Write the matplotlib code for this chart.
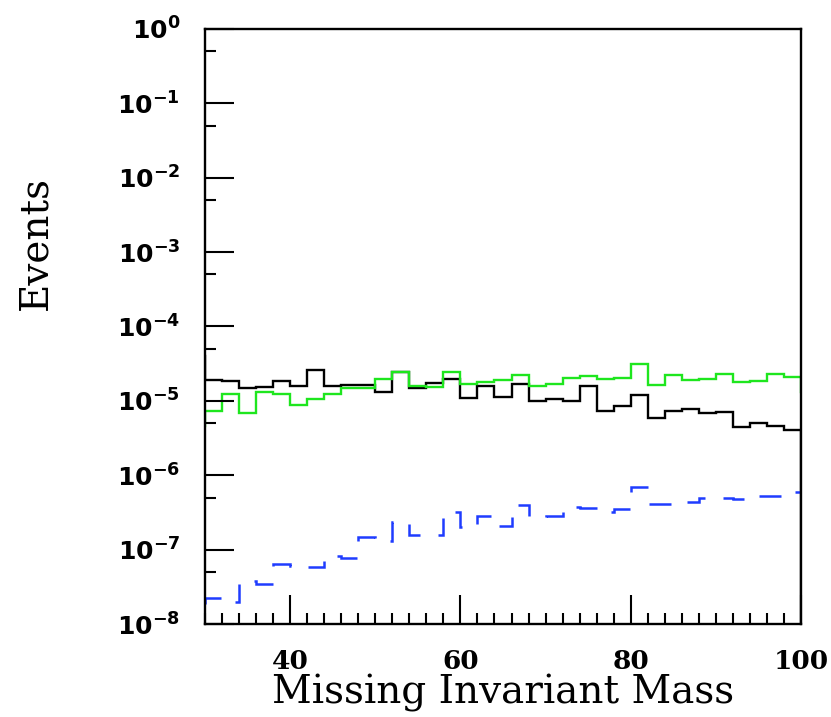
import numpy as np
import matplotlib
matplotlib.use("Agg")
import matplotlib.pyplot as plt
from matplotlib.ticker import FixedLocator, MultipleLocator, NullFormatter

# Bin edges (2-unit bins; first and last bins lie just outside the visible range)
bin_edges = np.arange(28, 104, 2)

black_vals = [4.0e-5,
              1.88e-5, 1.82e-5, 1.50e-5, 1.52e-5, 1.84e-5, 1.56e-5, 2.56e-5, 1.56e-5, 1.61e-5, 1.64e-5,
              1.30e-5, 2.43e-5, 1.48e-5, 1.72e-5, 1.94e-5, 1.08e-5, 1.56e-5, 1.12e-5, 1.66e-5, 9.9e-6,
              1.06e-5, 9.9e-6, 1.57e-5, 7.24e-6, 8.46e-6, 1.18e-5, 5.90e-6, 7.24e-6, 7.71e-6, 6.81e-6,
              7.03e-6, 4.51e-6, 5.10e-6, 4.61e-6, 4.07e-6,
              1.0e-9]

green_vals = [4.65e-6,
              7.24e-6, 1.22e-5, 6.89e-6, 1.33e-5, 1.24e-5, 8.83e-6, 1.06e-5, 1.24e-5, 1.50e-5, 1.48e-5,
              1.94e-5, 2.43e-5, 1.56e-5, 1.52e-5, 2.43e-5, 1.69e-5, 1.78e-5, 1.92e-5, 2.24e-5, 1.57e-5,
              1.69e-5, 2.04e-5, 2.14e-5, 1.98e-5, 2.01e-5, 3.08e-5, 1.61e-5, 2.24e-5, 1.88e-5, 1.94e-5,
              2.28e-5, 1.78e-5, 1.82e-5, 2.31e-5, 2.08e-5,
              1.30e-5]

blue_vals = [1.87e-8,
             2.23e-8, 1.95e-8, 3.73e-8, 3.44e-8, 6.40e-8, 5.94e-8, 5.76e-8, 8.10e-8, 7.71e-8, 1.46e-7,
             1.32e-7, 2.32e-7, 1.59e-7, 1.57e-7, 3.24e-7, 1.99e-7, 2.80e-7, 2.10e-7, 3.98e-7, 2.71e-7,
             2.80e-7, 3.72e-7, 3.63e-7, 3.17e-7, 3.52e-7, 7.03e-7, 4.11e-7, 4.11e-7, 4.42e-7, 4.95e-7,
             4.95e-7, 4.80e-7, 5.20e-7, 5.31e-7, 5.89e-7,
             4.28e-7]

x_major = [40, 60, 80, 100]
y_exponents = list(range(-8, 1))
y_labels = [r"$\mathbf{10^{%d}}$" % e for e in y_exponents]

W, H, DPI = 831, 717, 100
fig = plt.figure(figsize=(W / DPI, H / DPI), dpi=DPI)
ax = fig.add_axes([205 / W, 1 - 624 / H, (801 - 205) / W, (624 - 28.8) / H])

ax.stairs(black_vals, bin_edges, baseline=None, color="black", linewidth=1.7)
ax.stairs(green_vals, bin_edges, baseline=None, color="#1ee61e", linewidth=1.7)
ax.stairs(blue_vals, bin_edges, baseline=None, color="#1f3cff", linewidth=1.8,
          linestyle=(9.2, (8.8, 7.2)))

ax.set_xlim(30, 100)
ax.set_yscale("log")
ax.set_ylim(1e-8, 1)

ax.xaxis.set_major_locator(FixedLocator(x_major))
ax.xaxis.set_minor_locator(MultipleLocator(2))
ax.yaxis.set_major_locator(FixedLocator([10.0 ** e for e in y_exponents]))
ax.set_yticklabels(y_labels)
ax.yaxis.set_minor_locator(FixedLocator([5 * 10.0 ** e for e in range(-9, 0)]))
ax.yaxis.set_minor_formatter(NullFormatter())

ax.tick_params(which="both", direction="in", top=False, right=False, width=1.5)
ax.tick_params(which="major", length=21)
ax.tick_params(which="minor", length=8)
ax.tick_params(axis="y", which="major", pad=18, labelsize=18)
ax.tick_params(axis="x", which="major", pad=18, labelsize=19)
for lab in ax.get_xticklabels():
    lab.set_fontfamily("DejaVu Serif")
    lab.set_fontweight("bold")

for sp in ax.spines.values():
    sp.set_linewidth(1.7)

ax.set_xlabel("Missing Invariant Mass", family="DejaVu Serif", fontsize=28)
ax.set_ylabel("Events", family="DejaVu Serif", fontsize=28)
ax.xaxis.set_label_coords(0.5, -0.084)
ax.yaxis.set_label_coords(-0.252, 0.64)

fig.savefig("out.png", dpi=DPI)
